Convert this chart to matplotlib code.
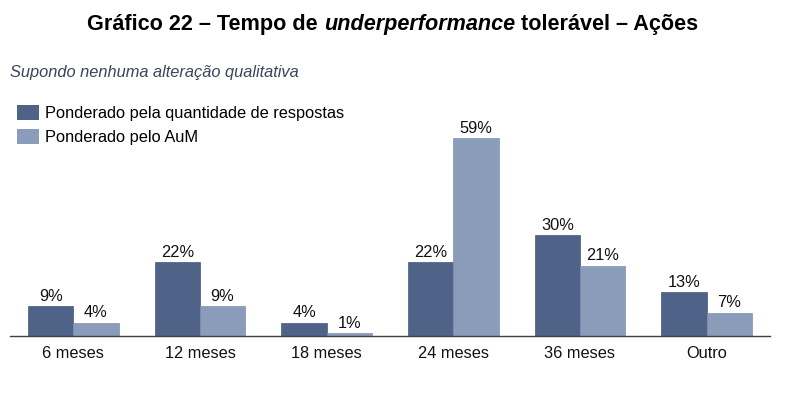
import matplotlib.pyplot as plt
from matplotlib.patches import Patch
import numpy as np

categorias = ['6 meses', '12 meses', '18 meses', '24 meses', '36 meses', 'Outro']
respostas = [9, 22, 4, 22, 30, 13]
aum = [4, 9, 1, 59, 21, 7]
series = ['Ponderado pela quantidade de respostas', 'Ponderado pelo AuM']

cor_escura = '#4f6388'
cor_clara = '#8a9cba'

plt.rcParams['font.family'] = ['Liberation Sans', 'DejaVu Sans']

fig = plt.figure(figsize=(7.85, 3.96), dpi=100)
ax = fig.add_axes([10 / 785, 60 / 396, 760 / 785, 208 / 396])

x = np.arange(len(categorias))
w = 0.357
b1 = ax.bar(x - w / 2, respostas, w, color=cor_escura, edgecolor='#45577a', linewidth=0.5)
b2 = ax.bar(x + w / 2, aum, w, color=cor_clara, edgecolor='#7f91b0', linewidth=0.5)
ax.bar_label(b1, labels=[f'{v}%' for v in respostas], padding=1.5, fontsize=11.8, color='#111111')
ax.bar_label(b2, labels=[f'{v}%' for v in aum], padding=1.5, fontsize=11.8, color='#111111')

ax.set_xlim(-0.5, len(categorias) - 0.5)
ax.set_ylim(0, 62)
ax.set_xticks(x)
ax.set_xticklabels(categorias, fontsize=11.8, color='#111111')
ax.tick_params(axis='x', length=0, pad=7)
ax.set_yticks([])
for s in ['top', 'right', 'left']:
    ax.spines[s].set_visible(False)
ax.spines['bottom'].set_color('#404040')
ax.spines['bottom'].set_linewidth(1.0)

# titulo com parte em italico
renderer = fig.canvas.get_renderer()
partes = [('Gráfico 22 – Tempo de ', 'normal'), ('underperformance', 'italic'),
          (' tolerável – Ações', 'normal')]
textos = []
for txt, estilo in partes:
    t = fig.text(0, 0, txt, fontsize=15.6, fontweight='bold', style=estilo,
                 transform=None, va='baseline')
    textos.append(t)
larguras = [t.get_window_extent(renderer).width for t in textos]
xpos = 785 / 2 - sum(larguras) / 2
for t, lw in zip(textos, larguras):
    t.set_position((xpos, 396 - 30))
    xpos += lw

fig.text(10 / 785, 1 - 72 / 396, 'Supondo nenhuma alteração qualitativa', fontsize=11.8,
         style='italic', color='#3a4658', va='center')

handles = [Patch(facecolor=cor_escura, edgecolor='none'),
           Patch(facecolor=cor_clara, edgecolor='none')]
fig.legend(handles, series, loc='upper left', bbox_to_anchor=(17 / 785, 1 - 105 / 396),
           frameon=False, fontsize=11.8, handlelength=1.35, handleheight=1.05,
           handletextpad=0.38, labelspacing=0.48, borderaxespad=0, borderpad=0)

fig.savefig('out.png', dpi=100)
